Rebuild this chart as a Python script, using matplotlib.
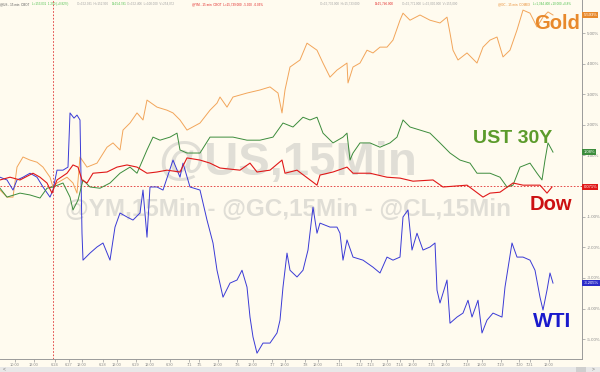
import matplotlib
matplotlib.use("Agg")
import matplotlib.pyplot as plt
from matplotlib.patches import Rectangle

plt.rcParams['font.family'] = ['Liberation Sans', 'DejaVu Sans']

# time axis in 15-min bars, values in % change
gold_t = [0, 7, 13, 17, 23, 30, 37, 43, 50, 53, 57, 67, 73, 77, 80, 87, 97, 107, 113, 120,
          123, 130, 137, 143, 147, 157, 167, 173, 180, 187, 200, 210, 217, 220, 227, 233, 247, 260, 270, 278,
          282, 285, 290, 300, 307, 317, 323, 330, 337, 347, 348, 353, 360, 367, 373, 380, 387, 393, 400, 403,
          410, 420, 430, 440, 447, 450, 453, 458, 467, 477, 483, 490, 497, 503, 510, 517, 523, 530, 537, 543,
          548, 553]
gold = [-0.13, -0.36, -0.36, 0.62, 0.95, 0.85, 0.78, 0.62, 0.29, -0.03, 0.10, 0.29, 0.10, -0.23, 0.95, 0.62, 0.75, 1.27, 1.41, 1.18,
        1.83, 2.06, 2.39, 2.16, 2.81, 2.58, 2.48, 2.39, 2.16, 1.83, 2.06, 2.48, 2.71, 2.91, 2.58, 2.91, 3.04, 3.14, 3.24, 3.04,
        2.39, 3.14, 3.89, 4.12, 4.67, 4.44, 4.02, 3.56, 3.79, 4.02, 3.37, 3.89, 4.02, 4.44, 4.35, 4.54, 4.54, 4.77, 5.42, 5.65,
        5.42, 5.59, 5.42, 5.33, 5.52, 5.00, 4.44, 4.12, 4.35, 4.02, 4.54, 4.77, 4.87, 4.22, 4.44, 5.10, 5.75, 5.65, 5.20, 5.52,
        5.69, 5.59]

ust_t = [0, 7, 20, 30, 40, 47, 53, 63, 70, 73, 78, 83, 90, 100, 110, 120, 130, 137, 147, 153,
         160, 170, 177, 180, 187, 200, 210, 217, 233, 247, 260, 273, 283, 293, 303, 310, 317, 323, 333, 343,
         347, 350, 353, 360, 370, 380, 390, 397, 403, 410, 420, 430, 440, 450, 460, 470, 477, 483, 490, 500,
         507, 513, 520, 530, 537, 542, 545, 548, 553]
ust = [-0.07, -0.36, -0.23, -0.29, -0.39, -0.07, -0.03, 0.10, -0.36, -0.78, -0.46, 0.20, -0.03, -0.07, 0.10, 0.42, 0.62, 0.42, 1.18, 1.60,
       1.50, 1.60, 1.73, 1.18, 1.08, 1.08, 1.60, 1.60, 1.60, 1.50, 1.50, 1.60, 2.06, 1.93, 2.25, 2.16, 2.25, 1.73, 1.41, 1.60,
       1.73, 0.85, 1.08, 1.41, 1.41, 1.27, 1.41, 1.60, 2.16, 1.93, 1.83, 1.73, 1.41, 1.08, 0.85, 0.75, 0.42, 0.42, 0.42, 0.29,
       -0.03, 0.03, 0.62, 0.75, 0.42, 0.20, 0.85, 1.41, 1.11]

dow_t = [0, 10, 20, 33, 40, 47, 52, 57, 67, 73, 78, 82, 87, 93, 107, 117, 127, 137, 147, 157,
         167, 180, 187, 200, 210, 220, 240, 250, 257, 270, 282, 285, 297, 317, 320, 333, 347, 353, 370, 387,
         400, 413, 433, 443, 467, 483, 490, 500, 513, 523, 540, 547, 552]
dow = [0.20, 0.29, 0.20, 0.42, 0.29, 0.10, -0.23, 0.20, 0.42, 0.69, 0.62, 0.20, 0.10, 0.42, 0.46, 0.62, 0.69, 0.62, 0.42, 0.46,
       0.52, 0.46, 0.92, 0.85, 0.75, 0.59, 0.52, 0.75, 0.46, 0.52, 0.85, 0.42, 0.52, 0.03, 0.36, 0.46, 0.62, 0.42, 0.42, 0.29,
       0.26, 0.16, 0.20, -0.03, 0.03, -0.36, -0.23, -0.20, 0.10, 0.03, 0.03, -0.23, -0.03]

wti_t = [0, 7, 13, 17, 23, 30, 37, 43, 50, 53, 57, 63, 68, 70, 74, 77, 80, 82, 83, 90,
         97, 103, 110, 115, 120, 127, 133, 140, 143, 147, 150, 157, 163, 173, 180, 183, 190, 200, 207, 213,
         217, 223, 230, 237, 242, 247, 250, 253, 257, 263, 270, 277, 280, 283, 287, 290, 297, 303, 308, 313,
         317, 320, 330, 337, 340, 343, 347, 353, 363, 373, 380, 387, 393, 400, 403, 408, 412, 417, 423, 430,
         435, 437, 440, 447, 450, 457, 463, 468, 472, 478, 482, 487, 493, 502, 505, 512, 517, 523, 530, 535,
         540, 543, 547, 550, 553]
wti = [0.29, 0.20, -0.13, 0.20, 0.29, 0.42, 0.29, -0.03, -0.36, -0.13, 0.52, 0.52, 0.62, 2.39, 2.22, 2.32, 2.16, -1.54, -2.42, -2.19,
       -1.99, -1.86, -2.42, -1.34, -0.88, -1.01, -1.11, -0.88, -0.13, -1.67, -0.03, -0.03, -0.13, 0.85, 0.29, 0.75, -0.03, -0.13, -1.11, -1.86,
       -2.75, -3.63, -3.17, -3.07, -2.75, -3.30, -4.28, -4.93, -5.46, -5.13, -5.13, -4.80, -4.38, -3.30, -2.19, -2.75, -2.97, -2.75, -2.09, -0.69,
       -1.54, -1.21, -1.34, -1.34, -1.54, -2.42, -1.76, -2.32, -2.42, -2.65, -2.84, -2.32, -2.42, -2.32, -1.01, -0.78, -2.09, -1.54, -2.09, -1.99,
       -1.86, -3.40, -3.82, -3.07, -4.48, -4.28, -4.15, -3.73, -4.28, -3.73, -4.80, -4.38, -4.15, -4.28, -3.30, -1.86, -2.32, -2.32, -2.42, -2.75,
       -3.63, -4.05, -3.40, -2.84, -3.17]

yticks = [5, 4, 3, 2, 1, -1, -2, -3, -4, -5]
ytick_labels = ['5.00%', '4.00%', '3.00%', '2.00%', '1.00%', '-1.00%', '-2.00%', '-3.00%', '-4.00%', '-5.00%']

xticks = [15, 34, 55, 69, 82, 103, 117, 136, 150, 170, 189, 199, 218, 237, 253, 272, 285, 305, 318, 339,
          360, 371, 387, 400, 413, 432, 446, 467, 482, 501, 519, 530, 549]
xtick_labels = ['10:00', '12:00', '6/24', '6/27', '12:00', '6/28', '12:00', '6/29', '12:00', '6/30',
                '7/1', '7/5', '12:00', '7/6', '12:00', '7/7', '12:00', '7/8', '12:00', '7/11',
                '7/12', '7/13', '12:00', '7/14', '12:00', '7/15', '12:00', '7/18', '12:00', '7/19',
                '7/20', '7/21', '12:00']

event_t = 53

bg = '#FFFBEF'
fig = plt.figure(figsize=(6, 3.72), dpi=100, facecolor=bg)
ax = fig.add_axes([0, 13 / 372, 582 / 600, 359 / 372], facecolor=bg)
ax.set_xlim(0, 582)
ax.set_ylim(-5.65, 6.08)

# watermark
wm = '#E0DED6'
ax.text(288, 0.75, '@US,15Min', fontsize=34, fontweight='bold', color=wm,
        ha='center', va='center', zorder=0)
ax.text(288, -0.78, '@YM,15Min - @GC,15Min - @CL,15Min', fontsize=17.5, fontweight='bold',
        color=wm, ha='center', va='center', zorder=0)

ax.axhline(0, color='#E03030', lw=0.6, ls=(0, (2, 2)), zorder=1)
ax.axvline(event_t, color='#E03030', lw=0.6, ls=(0, (2, 2)), zorder=1)

ax.plot(gold_t, gold, color='#F2A55A', lw=0.7, zorder=2)
ax.plot(wti_t, wti, color='#3A3AD6', lw=0.7, zorder=2)
ax.plot(ust_t, ust, color='#3C8C3C', lw=0.7, zorder=3)
ax.plot(dow_t, dow, color='#E01818', lw=0.8, zorder=4)

# big labels
ax.text(580, 5.3, 'Gold', fontsize=14.5, fontweight='bold', color='#E8892B', ha='right', va='center', zorder=5)
ax.text(513, 1.57, 'UST 30Y', fontsize=14, fontweight='bold', color='#5B9B2B', ha='center', va='center', zorder=5)
ax.text(551, -0.59, 'Dow', fontsize=14.5, fontweight='bold', color='#CC1111', ha='center', va='center', zorder=5)
ax.text(552, -4.44, 'WTI', fontsize=15, fontweight='bold', color='#1A1ACC', ha='center', va='center', zorder=5)

# last-value tags on the right axis
tags = [(gold[-1], '5.593%', '#E8892B'), (ust[-1], '1.08%', '#3C8C3C'),
        (dow[-1], '0.071%', '#E01818'), (wti[-1], '-3.205%', '#2B2BC8')]
for val, txt, col in tags:
    ax.annotate(txt, xy=(1.0, val), xycoords=('axes fraction', 'data'), xytext=(1, 0),
                textcoords='offset points', fontsize=3, color='white', ha='left', va='center',
                bbox=dict(boxstyle='square,pad=0.25', fc=col, ec='none'), annotation_clip=False, zorder=6)

# axes styling
for s in ['left', 'top']:
    ax.spines[s].set_visible(False)
ax.spines['right'].set_color('#9A9A9A')
ax.spines['bottom'].set_color('#9A9A9A')
ax.spines['right'].set_linewidth(0.7)
ax.spines['bottom'].set_linewidth(0.7)
ax.yaxis.tick_right()
ax.set_yticks(yticks)
ax.set_yticklabels(ytick_labels)
ax.set_xticks(xticks)
ax.set_xticklabels(xtick_labels)
ax.tick_params(axis='y', length=2, width=0.5, color='#9A9A9A', labelsize=3.2, labelcolor='#8A8A8A', pad=1.5)
ax.tick_params(axis='x', length=2, width=0.5, color='#9A9A9A', labelsize=2.8, labelcolor='#8A8A8A', pad=1)

# quote header
header = [(0, '@US - 15 min  CBOT', '#555555'),
          (32, 'L=153.031  1.250 (+0.82%)', '#4CC04C'),
          (77, 'O=152.031  H=152.906', '#A0A0A0'),
          (112, 'D=154.781', '#4CC04C'),
          (127, 'O=152.406  L=100.000  V=254,072', '#A0A0A0'),
          (192, '@YM - 15 min  CBOT  L=15,739.000  -5.000  -0.03%', '#E02020'),
          (320, 'O=15,732.000  H=15,733.000', '#A0A0A0'),
          (375, 'D=15,746.000', '#E02020'),
          (402, 'O=15,771.000  L=15,000.000  V=155,000', '#A0A0A0'),
          (498, '@GC - 15 min  COMEX', '#E8892B'),
          (533, 'L=1,344.400 +10.000 +0.8%', '#4CC04C')]
for xp, txt, col in header:
    fig.text(xp / 600, 1 - 4 / 372, txt, fontsize=2.2, color=col, ha='left', va='center')

# scroll strip at the bottom
fig.add_artist(Rectangle((0, 0), 1, 5.5 / 372, transform=fig.transFigure, fc='#E8E8E8', ec='none'))
fig.add_artist(Rectangle((576 / 600, 0.5 / 372), 10 / 600, 4.5 / 372, transform=fig.transFigure,
                         fc='#CFCFCF', ec='none'))
fig.text(3 / 600, 2.8 / 372, '<', fontsize=3.5, color='#777777', va='center')
fig.text(592 / 600, 2.8 / 372, '>', fontsize=3.5, color='#777777', va='center')

fig.savefig('out.png', dpi=100, facecolor=bg)
